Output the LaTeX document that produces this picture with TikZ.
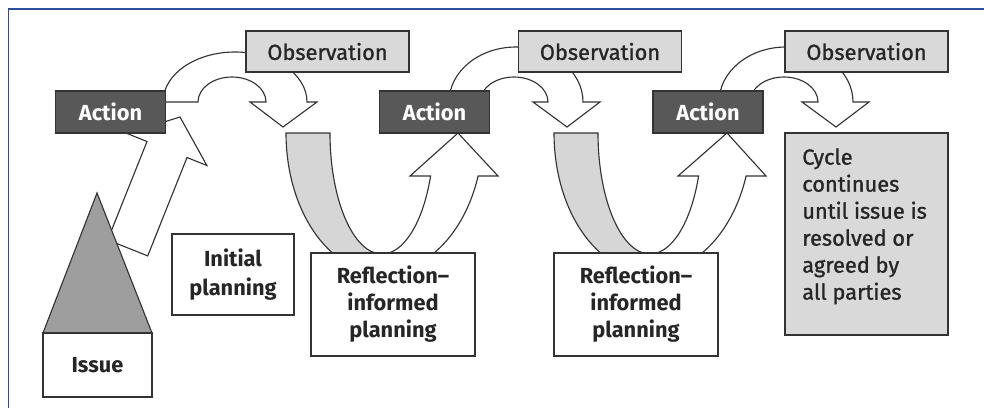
\documentclass[tikz,border=0pt]{standalone}
\usepackage{fontspec}
\setmainfont{Fira Sans}
\newfontfamily\medfont{Fira Sans}[FakeBold=1.2]
\newlength\pxu
\setlength\pxu{0.025cm}
\definecolor{linec}{HTML}{333333}
\definecolor{actfill}{HTML}{585858}
\definecolor{obsfill}{HTML}{D9D9D9}
\definecolor{trifill}{HTML}{9E9E9E}
\definecolor{bandfill}{HTML}{D6D6D6}
\definecolor{framec}{HTML}{2B4E9A}
\begin{document}
\begin{tikzpicture}[x=0.025cm,y=-0.025cm,
  txt/.style={font=\fontsize{15.5}{19.2}\selectfont\medfont},
  btxt/.style={font=\fontsize{15.5}{19.2}\selectfont\bfseries},
  box/.style={draw=linec, line width=0.8pt, inner sep=0pt, outer sep=0pt, align=center},
  actbox/.style={box, btxt, fill=actfill, text=white, minimum width=110\pxu, minimum height=42\pxu},
  obsbox/.style={box, txt, fill=obsfill, text=black!85, minimum width=163\pxu, minimum height=41\pxu},
  planbox/.style={box, btxt, fill=white, text=black!85},
  shapeline/.style={draw=linec, line width=0.8pt, fill=white, line join=miter},
  grayband/.style={shapeline, fill=bandfill}]
\useasboundingbox (0,0) rectangle (984,408);
% frame
\draw[framec, line width=1.1pt] (8.5,408) -- (8.5,9) -- (984,9);

% tilted arrow from issue to first action
\draw[shapeline] (180,117) -- (127.1,133.5) -- (147,141.5) -- (107.7,239.9)
  -- (147.7,255.9) -- (187,157.5) -- (206.9,165.5) -- cycle;
% issue triangle
\draw[shapeline, fill=trifill] (97,193) -- (152,333) -- (43,333) -- cycle;
\node[planbox, minimum width=109\pxu, minimum height=64\pxu] (issue) at (97.5,365) {Issue};

% top curved arrows (action -> observation)
\draw[shapeline] (160,102) -- (198,102) arc[start angle=180, end angle=360, x radius=34, y radius=25]
  -- (250,102) -- (283,127) -- (317,102) -- (307,102)
  arc[start angle=0, end angle=-180, x radius=72, y radius=50] -- cycle;
\draw[shapeline] (480,102) arc[start angle=180, end angle=360, x radius=34, y radius=25]
  -- (533,102) -- (567,127) -- (600,102) -- (583,102)
  arc[start angle=0, end angle=-180, x radius=67, y radius=55] -- cycle;
\draw[shapeline] (750,102) arc[start angle=180, end angle=360, x radius=34, y radius=25]
  -- (802,102) -- (836,127) -- (869,102) -- (853,102)
  arc[start angle=0, end angle=-180, x radius=67, y radius=55] -- cycle;

% U bands (reflection -> planning -> action)
\foreach \c/\tip in {382/458, 650/727} {
  \draw[grayband] (\c-96,133) arc[start angle=180, end angle=90, x radius=96, y radius=140]
    -- (\c,254) arc[start angle=90, end angle=180, x radius=52, y radius=121] -- cycle;
  \draw[shapeline] (\c+96.1,176) arc[start angle=17.89, end angle=90, x radius=101, y radius=140]
    -- (\c,254) arc[start angle=90, end angle=20.82, x radius=52, y radius=121]
    -- (\c+28,176) -- (\tip,133) -- (\c+116,176) -- cycle;
}

% boxes
\node[actbox] (act1) at (110.5,112) {Action};
\node[actbox] (act2) at (434.5,112) {Action};
\node[actbox] (act3) at (708,112) {Action};
\node[obsbox] (obs1) at (327.5,51.5) {Observation};
\node[obsbox] (obs2) at (600,51.5) {Observation};
\node[obsbox] (obs3) at (866.5,51.5) {Observation};
\node[planbox, minimum width=122\pxu, minimum height=81\pxu,
  font=\fontsize{15.5}{20.6}\selectfont\bfseries] (init) at (233,274.5) {Initial\\planning};
\node[planbox, minimum width=164\pxu, minimum height=103\pxu] (refl1) at (393,304.5) {Reflection–\\informed\\planning};
\node[planbox, minimum width=164\pxu, minimum height=103\pxu] (refl2) at (636,304.5) {Reflection–\\informed\\planning};
\node[box, fill=obsfill, minimum width=163\pxu, minimum height=202\pxu] (cycle) at (866.5,234) {};
\node[txt, anchor=north west, align=left, inner sep=0pt, text=black!85] (cycletext) at (802,148)
  {Cycle\\continues\\until issue is\\resolved or\\agreed by\\all parties};
\end{tikzpicture}
\end{document}
